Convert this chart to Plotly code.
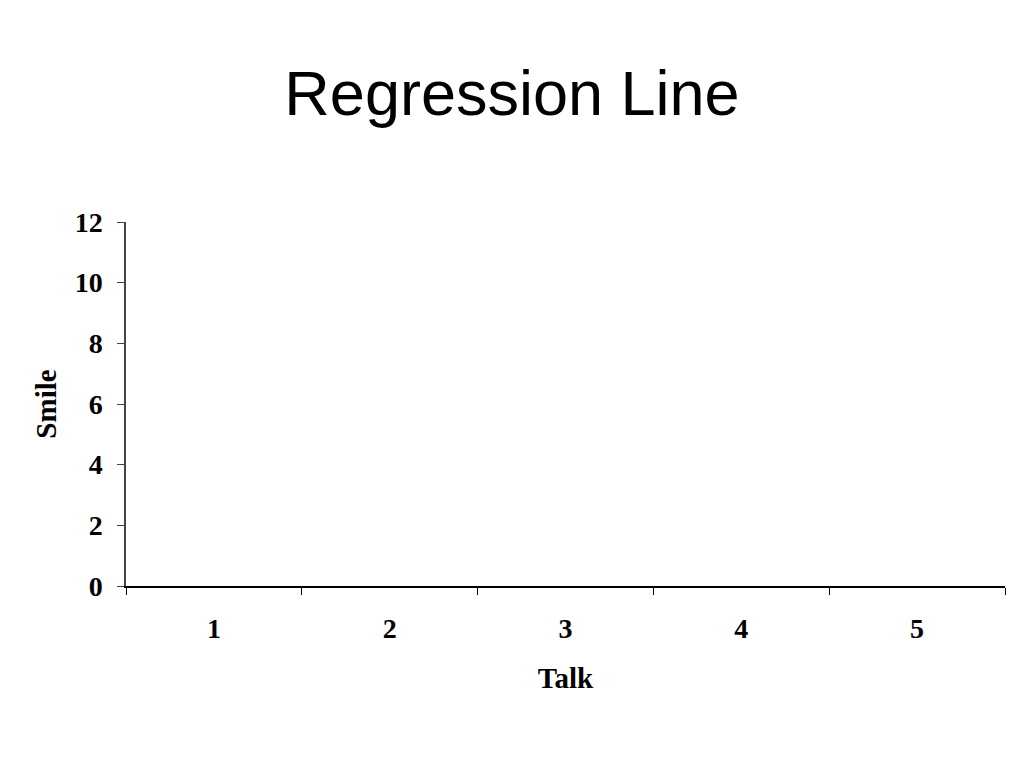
import plotly.graph_objects as go

categories = ["1", "2", "3", "4", "5"]
smile_values = [None, None, None, None, None]
y_ticks = [0, 2, 4, 6, 8, 10, 12]

serif = "Liberation Serif"

fig = go.Figure()
fig.add_trace(go.Scatter(x=categories, y=smile_values, mode="markers",
                         marker=dict(color="rgba(0,0,0,0)"), showlegend=False,
                         hoverinfo="skip"))

fig.update_layout(
    width=1024, height=768,
    paper_bgcolor="white", plot_bgcolor="white",
    margin=dict(l=118, r=27, t=214, b=190),
    title=dict(text="Regression Line", x=504/1024, xanchor="center", y=1 - 85/768, yanchor="middle",
               font=dict(family="Liberation Sans", size=63, color="black")),
    showlegend=False,
)
fig.update_xaxes(
    type="category", categoryorder="array", categoryarray=categories,
    range=[-0.5, 4.5], tickson="boundaries", ticks="outside", ticklen=7, tickcolor="black",
    showline=True, linecolor="black", linewidth=1.5, showgrid=False, zeroline=False,
    tickfont=dict(family=serif, size=28, color="black", weight="bold"),
    ticklabelstandoff=17,
    title=dict(text="Talk", font=dict(family=serif, size=29, color="black", weight="bold"), standoff=24),
)
fig.update_yaxes(
    range=[0, 12], tickvals=y_ticks, ticks="outside", ticklen=7, tickcolor="#444",
    showline=True, linecolor="#444", linewidth=1.5, showgrid=False, zeroline=False,
    tickfont=dict(family=serif, size=28, color="black", weight="bold"),
    ticklabelstandoff=9,
    title=dict(text="Smile", font=dict(family=serif, size=29, color="black", weight="bold"), standoff=10),
)

fig.write_html("out.html")
